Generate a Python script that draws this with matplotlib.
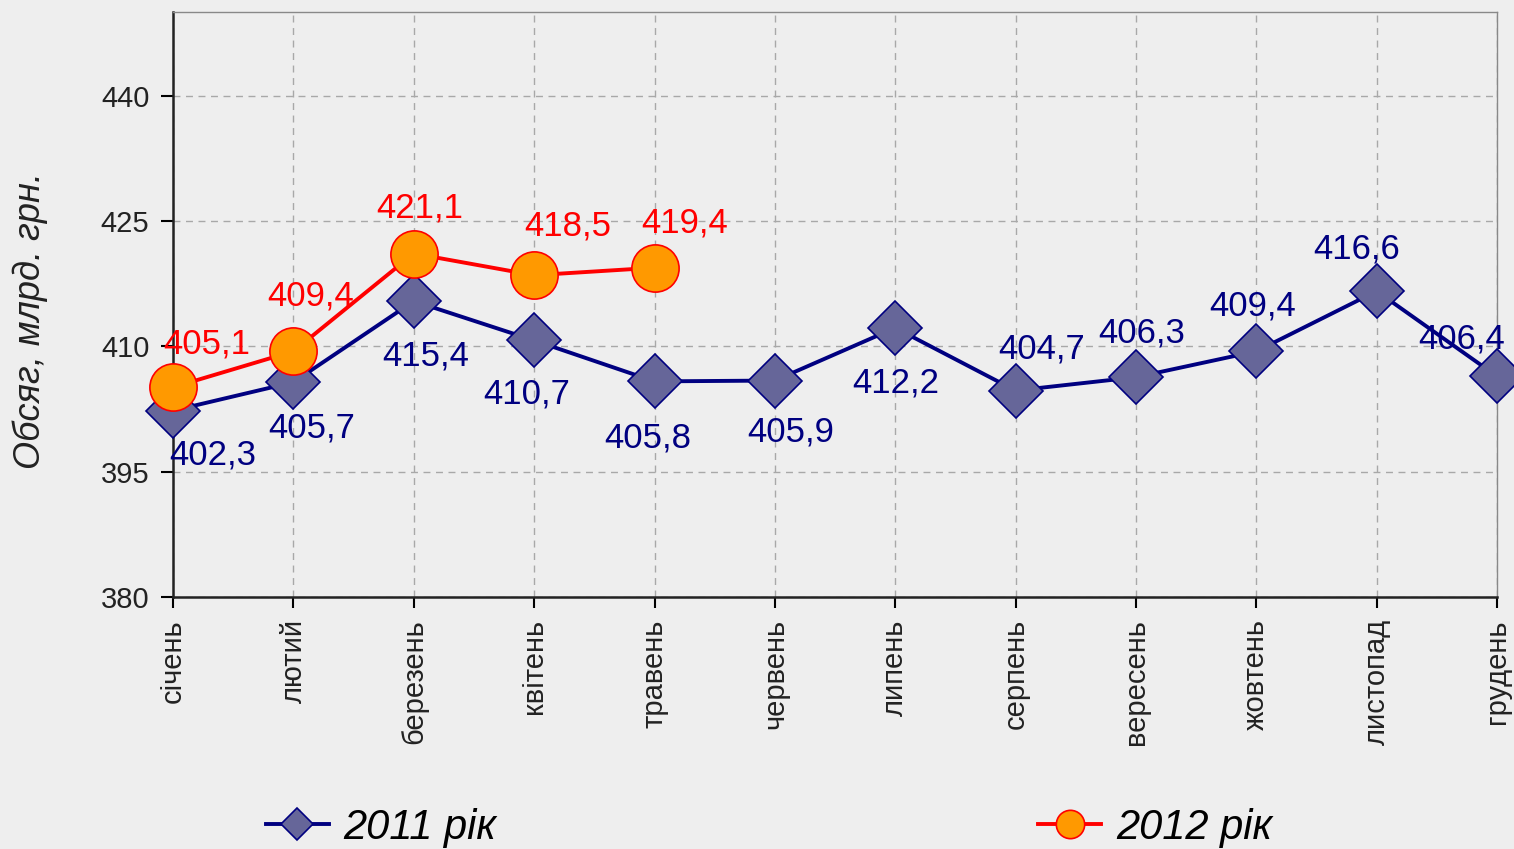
import matplotlib.pyplot as plt
import numpy as np

plt.rcParams['font.family'] = ['Liberation Sans', 'DejaVu Sans']

# Дані
months = ['січень', 'лютий', 'березень', 'квітень', 'травень', 'червень',
          'липень', 'серпень', 'вересень', 'жовтень', 'листопад', 'грудень']
vals_2011 = [402.3, 405.7, 415.4, 410.7, 405.8, 405.9, 412.2, 404.7, 406.3, 409.4, 416.6, 406.4]
vals_2012 = [405.1, 409.4, 421.1, 418.5, 419.4]
yticks = [380, 395, 410, 425, 440]

# зсуви підписів (пікселі)
off_2011 = [(40, -44), (18, -46), (12, -55), (-7, -54), (-7, -57), (16, -51),
            (1, -55), (26, 42), (6, 44), (-4, 45), (-20, 42), (-35, 37)]
off_2012 = [(34, 43), (17, 55), (6, 46), (34, 49), (30, 45)]

bg = '#EEEEEE'
fig = plt.figure(figsize=(15.14, 8.49), dpi=100, facecolor=bg)
ax = fig.add_axes([0.1143, 0.2968, 0.8745, 0.6891], facecolor=bg)

x1 = np.arange(len(vals_2011))
x2 = np.arange(len(vals_2012))

l1, = ax.plot(x1, vals_2011, color='#000080', lw=2.8, marker='D', markersize=27,
              markerfacecolor='#666699', markeredgecolor='#000080', markeredgewidth=1.2,
              clip_on=False, zorder=3, label='2011 рік')
l2, = ax.plot(x2, vals_2012, color='#FF0000', lw=2.8, marker='o', markersize=34,
              markerfacecolor='#FF9900', markeredgecolor='#FF0000', markeredgewidth=1.2,
              clip_on=False, zorder=4, label='2012 рік')

for xi, v, off in zip(x1, vals_2011, off_2011):
    ax.annotate(f'{v:.1f}'.replace('.', ','), (xi, v), xytext=off, textcoords='offset pixels',
                ha='center', va='center', fontsize=25, color='#000080', zorder=5,
                annotation_clip=False)
for xi, v, off in zip(x2, vals_2012, off_2012):
    ax.annotate(f'{v:.1f}'.replace('.', ','), (xi, v), xytext=off, textcoords='offset pixels',
                ha='center', va='center', fontsize=25, color='#FF0000', zorder=5,
                annotation_clip=False)

ax.set_xlim(0, 11)
ax.set_ylim(380, 450)
ax.set_yticks(yticks)
ax.set_xticks(x1)
ax.set_xticklabels(months, rotation=90, fontsize=21, color='#222222')
ax.tick_params(axis='y', labelsize=21, labelcolor='#222222', length=9, width=1.5,
               direction='out', pad=8)
ax.tick_params(axis='x', length=8, width=1.5, direction='out', pad=8)

ax.grid(True, color='#A8A8A8', linestyle=(0, (5, 4)), linewidth=1)
ax.set_axisbelow(True)
for s in ['left', 'bottom']:
    ax.spines[s].set_color('#222222')
    ax.spines[s].set_linewidth(1.8)
for s in ['top', 'right']:
    ax.spines[s].set_color('#888888')
    ax.spines[s].set_linewidth(1)

fig.text(0.0198, 0.622, 'Обсяг, млрд. грн.', rotation=90, ha='center', va='center',
         fontsize=26, style='italic', color='#222222')

fig.legend(handles=[l1, l2], loc='center', bbox_to_anchor=(0.508, 0.025), ncol=2,
           frameon=False, prop={'size': 30, 'style': 'italic'}, markerscale=0.6,
           handlelength=1.5, handletextpad=0.36, columnspacing=13)

fig.savefig('out.png', dpi=100, facecolor=bg)
